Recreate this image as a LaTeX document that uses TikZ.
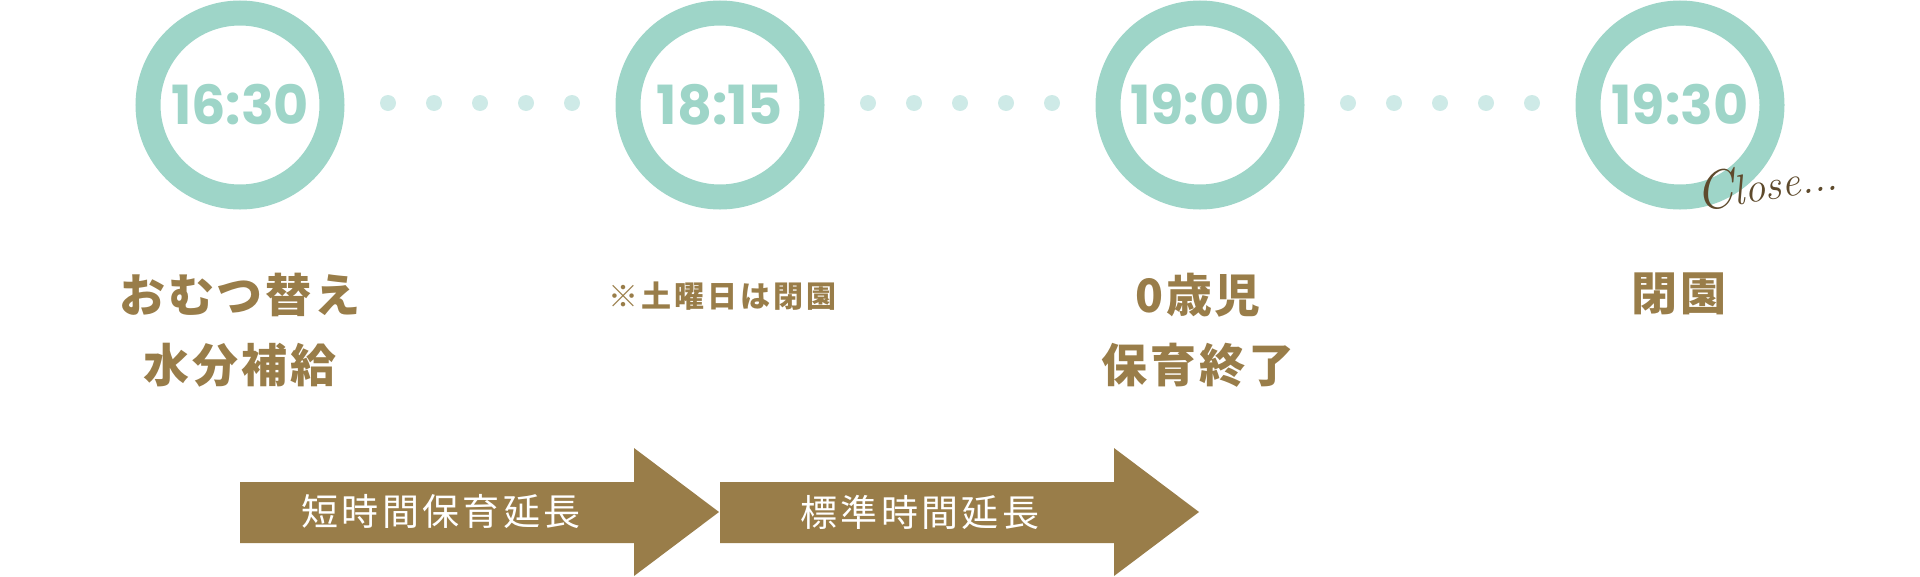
\documentclass[tikz,border=0pt]{standalone}
\usepackage{fontspec}
\newfontfamily\timefont{Poppins}
\newfontfamily\jp{Noto Sans CJK JP}[LetterSpace=6]
\newfontfamily\jpsmall{Noto Sans CJK JP}[LetterSpace=10]
\newfontfamily\jpwide{Noto Sans CJK JP}[LetterSpace=9]
\definecolor{ringc}{HTML}{9ED5C8}
\definecolor{dotc}{HTML}{CEEAE7}
\definecolor{brownc}{HTML}{997D49}
\definecolor{closec}{HTML}{5E4A2C}
\tikzset{
  ring/.style={circle, draw=ringc, line width=25pt, minimum size=184pt, inner sep=0pt,
    text=ringc, font=\timefont\bfseries\fontsize{54}{54}\selectfont},
  dotn/.style={circle, fill=dotc, minimum size=16pt, inner sep=0pt},
  lbl/.style={text=brownc, align=center, inner sep=0pt, font=\jp\bfseries\fontsize{46}{70}\selectfont},
  smalllbl/.style={text=brownc, inner sep=0pt, font=\jpsmall\bfseries\fontsize{30}{30}\selectfont},
  arrowtxt/.style={text=white, inner sep=0pt, font=\jpwide\fontsize{37}{37}\selectfont},
}
\begin{document}
\begin{tikzpicture}[x=1pt,y=-1pt]
\useasboundingbox (0,0) rectangle (1920,576);
% rings
\node[ring] (t1) at (240,105) {16:30};
\node[ring] (t2) at (720,105) {18:15};
\node[ring] (t3) at (1200,105) {19:00};
\node[ring] (t4) at (1680,105) {19:30};
% dots
\foreach \s/\n in {0/a,480/b,960/c}{
  \foreach \i in {0,...,4}{
    \node[dotn] (d\n\i) at ({388+\s+46*\i},103) {};
  }
}
% Close...
\node[text=closec, font=\itshape\fontsize{42}{42}\selectfont, rotate=9, inner sep=0pt] (close) at (1766,182) {{\fontsize{54}{54}\selectfont C}lose...};
% labels
\node[lbl] (l1) at (240,330) {おむつ替え\\水分補給};
\node[smalllbl] (l2) at (722,296) {※土曜日は閉園};
\node[lbl] (l3) at (1198,330) {0歳児\\保育終了};
\node[lbl] (l4) at (1679,294) {閉園};
% arrows
\fill[brownc] (240,482) -- (634,482) -- (634,448) -- (719,512) -- (634,576) -- (634,543) -- (240,543) -- cycle;
\fill[brownc] (720,482) -- (1114,482) -- (1114,448) -- (1199,512) -- (1114,576) -- (1114,543) -- (720,543) -- cycle;
\node[arrowtxt] (a1) at (441,512) {短時間保育延長};
\node[arrowtxt] (a2) at (920,512) {標準時間延長};
\end{tikzpicture}
\end{document}
